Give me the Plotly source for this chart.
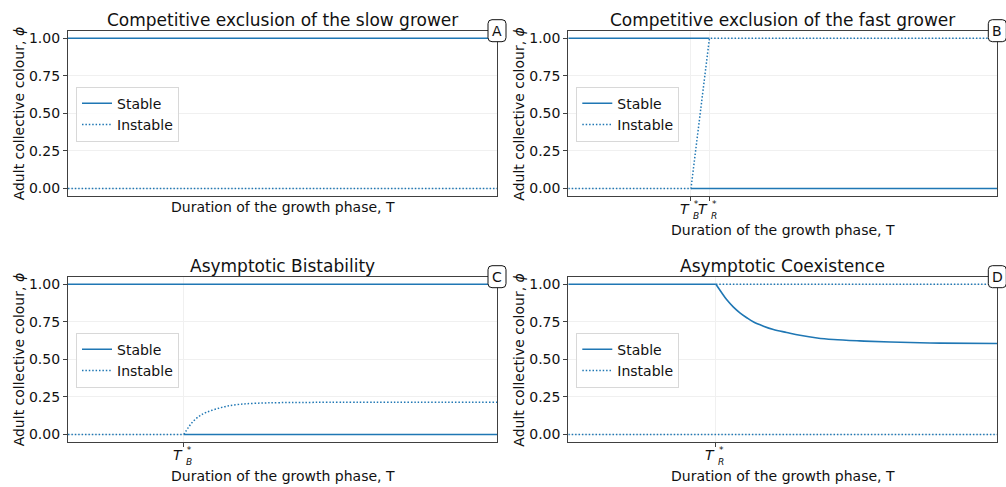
import plotly.graph_objects as go

# ---------------- data ----------------
T_MIN, T_MAX = 0.0, 10.0

# Panel A: competitive exclusion of the slow grower
a_stable_T = [0.0, 10.0]
a_stable_phi = [1.0, 1.0]
a_instable_T = [0.0, 10.0]
a_instable_phi = [0.0, 0.0]

# Panel B: competitive exclusion of the fast grower
b_TB, b_TR = 2.86, 3.29
b_stable_T = [0.0, b_TR, None, b_TB, 10.0]
b_stable_phi = [1.0, 1.0, None, 0.0, 0.0]
b_instable_T = [0.0, b_TB, b_TR, 10.0]
b_instable_phi = [0.0, 0.0, 1.0, 1.0]

# Panel C: asymptotic bistability
c_TB = 2.70
c_stable_T = [0.0, 10.0, None, c_TB, 10.0]
c_stable_phi = [1.0, 1.0, None, 0.0, 0.0]
c_instable_T = [0.0, 2.70, None, 2.70, 2.80, 2.92, 3.08, 3.23, 3.47, 3.70, 4.01, 4.40, 4.94, 6.09, 10.0]
c_instable_phi = [0.0, 0.0, None, 0.0, 0.044, 0.088, 0.126, 0.148, 0.171, 0.188, 0.201, 0.208, 0.212, 0.214, 0.214]

# Panel D: asymptotic coexistence
d_TR = 3.44
d_stable_T = [0.0, 3.44, None, 3.44, 3.50, 3.58, 3.69, 3.85, 4.00, 4.16, 4.31, 4.55, 4.78, 5.09,
              5.40, 5.80, 6.18, 6.79, 7.51, 8.67, 10.0]
d_stable_phi = [1.0, 1.0, None, 1.0, 0.975, 0.942, 0.898, 0.848, 0.810, 0.777, 0.750, 0.721, 0.699, 0.679,
                0.660, 0.642, 0.632, 0.623, 0.615, 0.608, 0.605]
d_instable_T = [0.0, 10.0, None, d_TR, 10.0]
d_instable_phi = [0.0, 0.0, None, 1.0, 1.0]

titles = ["Competitive exclusion of the slow grower", "Competitive exclusion of the fast grower",
          "Asymptotic Bistability", "Asymptotic Coexistence"]
panel_letters = ["A", "B", "C", "D"]
y_ticks = [0.0, 0.25, 0.5, 0.75, 1.0]
y_ticklabels = ["0.00", "0.25", "0.50", "0.75", "1.00"]
x_ticks = [[], [b_TB, b_TR], [c_TB], [d_TR]]
x_tick_subs = [[], ["B", "R"], ["B"], ["R"]]
legend_names = ["Stable", "Instable"]
y_label = "Adult collective colour, <i>ϕ</i>"
x_label = "Duration of the growth phase, T"

# ---------------- layout geometry ----------------
W, H = 1006, 487
FONT = "DejaVu Sans"
BLUE = "#1f77b4"
SPINE = "#404040"
GRID = "#f0f0f0"
TXT = "#111"

# plot areas in pixels: (left, right, top, bottom)
boxes = [(68, 497, 30.7, 196), (568.3, 997.3, 30.7, 196),
         (68, 497, 276.7, 442), (568.3, 997.3, 276.7, 442)]
# which curves are smooth (drawn with spline) : (stable, instable)
smooth = [(False, False), (False, False), (False, True), (True, False)]

def px(x):
    return x / W

def py(y):
    return 1 - y / H

panels = [
    (a_stable_T, a_stable_phi, a_instable_T, a_instable_phi),
    (b_stable_T, b_stable_phi, b_instable_T, b_instable_phi),
    (c_stable_T, c_stable_phi, c_instable_T, c_instable_phi),
    (d_stable_T, d_stable_phi, d_instable_T, d_instable_phi),
]

fig = go.Figure()
annotations = []
shapes = []
layout_axes = {}

for i, (sT, sP, iT, iP) in enumerate(panels):
    n = i + 1
    xa = "x" if n == 1 else f"x{n}"
    ya = "y" if n == 1 else f"y{n}"
    leg = "legend" if n == 1 else f"legend{n}"
    s_shape = "spline" if smooth[i][0] else "linear"
    i_shape = "spline" if smooth[i][1] else "linear"
    fig.add_trace(go.Scatter(x=sT, y=sP, mode="lines", name=legend_names[0],
                             line=dict(color=BLUE, width=1.6, shape=s_shape),
                             xaxis=xa, yaxis=ya,
                             legend=leg, connectgaps=False, hoverinfo="skip"))
    fig.add_trace(go.Scatter(x=iT, y=iP, mode="lines", name=legend_names[1],
                             line=dict(color=BLUE, width=1.5, dash="1.5px,1.9px", shape=i_shape),
                             xaxis=xa, yaxis=ya,
                             legend=leg, connectgaps=False, hoverinfo="skip"))

    l, r, t, b = boxes[i]
    xkey = "xaxis" if n == 1 else f"xaxis{n}"
    ykey = "yaxis" if n == 1 else f"yaxis{n}"
    layout_axes[xkey] = dict(
        domain=[px(l), px(r)], range=[T_MIN, T_MAX], anchor=ya,
        tickvals=x_ticks[i], showticklabels=False,
        ticks="outside" if x_ticks[i] else "", ticklen=4, tickcolor=SPINE, tickwidth=1,
        showgrid=True, gridcolor=GRID, gridwidth=1, zeroline=False,
        showline=True, linecolor=SPINE, linewidth=1.2, mirror=True,
    )
    layout_axes[ykey] = dict(
        domain=[py(b), py(t)], range=[-0.05, 1.05], anchor=xa,
        tickvals=y_ticks, ticktext=y_ticklabels,
        ticks="outside", ticklen=4, tickcolor=SPINE, tickwidth=1,
        tickfont=dict(family=FONT, size=14, color=TXT),
        showgrid=True, gridcolor=GRID, gridwidth=1, zeroline=False,
        showline=True, linecolor=SPINE, linewidth=1.2, mirror=True,
    )
    layout_axes[leg] = dict(
        x=px(l + 8), y=py(t + 56), xanchor="left", yanchor="top",
        bgcolor="rgba(255,255,255,0.85)", bordercolor="#d8d8d8", borderwidth=1,
        font=dict(family=FONT, size=14, color=TXT),
        tracegroupgap=0, itemwidth=30,
    )

    cx = (l + r) / 2
    # title
    annotations.append(dict(text=titles[i], x=px(cx), y=py(t - 11), xref="paper", yref="paper",
                            xanchor="center", yanchor="middle", showarrow=False,
                            font=dict(family=FONT, size=17, color=TXT)))
    # y label
    annotations.append(dict(text=y_label, x=px(l - 49), y=py((t + b) / 2), xref="paper", yref="paper",
                            xanchor="center", yanchor="middle", showarrow=False, textangle=-90,
                            font=dict(family=FONT, size=14, color=TXT)))
    # x label
    xl_y = b + (11 if not x_ticks[i] else 34)
    annotations.append(dict(text=x_label, x=px(cx), y=py(xl_y), xref="paper", yref="paper",
                            xanchor="center", yanchor="middle", showarrow=False,
                            font=dict(family=FONT, size=14, color=TXT)))
    # panel letter box (rounded frame drawn as a path)
    bw, bh, rad = 18, 22, 4
    x0, x1 = r - bw / 2, r + bw / 2
    y0, y1 = t - bh / 2, t + bh / 2
    path = (f"M {px(x0 + rad)} {py(y0)} L {px(x1 - rad)} {py(y0)} "
            f"Q {px(x1)} {py(y0)} {px(x1)} {py(y0 + rad)} L {px(x1)} {py(y1 - rad)} "
            f"Q {px(x1)} {py(y1)} {px(x1 - rad)} {py(y1)} L {px(x0 + rad)} {py(y1)} "
            f"Q {px(x0)} {py(y1)} {px(x0)} {py(y1 - rad)} L {px(x0)} {py(y0 + rad)} "
            f"Q {px(x0)} {py(y0)} {px(x0 + rad)} {py(y0)} Z")
    shapes.append(dict(type="path", path=path, xref="paper", yref="paper",
                       fillcolor="white", line=dict(color="#111", width=1), layer="above"))
    annotations.append(dict(text=panel_letters[i], x=px(r), y=py(t), xref="paper", yref="paper",
                            xanchor="center", yanchor="middle", showarrow=False,
                            font=dict(family=FONT, size=14, color=TXT)))
    # x tick labels T with stacked super/subscript
    for tv, sub in zip(x_ticks[i], x_tick_subs[i]):
        annotations.append(dict(text="<i>T</i>", x=tv, y=py(b + 13), xref=xa, yref="paper",
                                xanchor="right", yanchor="middle", xshift=1, showarrow=False,
                                font=dict(family=FONT, size=14, color=TXT)))
        annotations.append(dict(text="*<br><i>" + sub + "</i>", x=tv, y=py(b + 14), xref=xa, yref="paper",
                                xanchor="left", yanchor="middle", xshift=0, showarrow=False,
                                font=dict(family=FONT, size=9, color=TXT)))

fig.update_layout(
    width=W, height=H, margin=dict(l=0, r=0, t=0, b=0),
    paper_bgcolor="white", plot_bgcolor="white",
    font=dict(family=FONT, size=14, color=TXT),
    annotations=annotations, shapes=shapes, showlegend=True,
    **layout_axes,
)

fig.write_html("out.html")
